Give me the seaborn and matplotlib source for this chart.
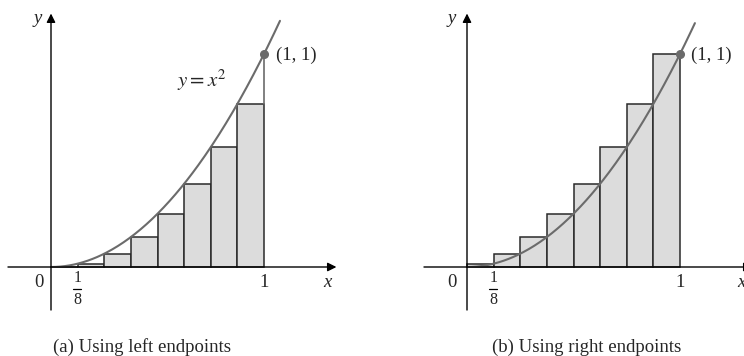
import numpy as np
import pandas as pd
import matplotlib
matplotlib.use("Agg")
import matplotlib.pyplot as plt
import seaborn as sns

# ---- data ----
interval_left = [0.0, 0.125, 0.25, 0.375, 0.5, 0.625, 0.75, 0.875]
bar_width = 0.125
left_heights = [0.0, 0.0156, 0.0625, 0.1406, 0.25, 0.3906, 0.5625, 0.7656]
right_heights = [0.0156, 0.0625, 0.1406, 0.25, 0.3906, 0.5625, 0.7656, 1.0]
captions = ["(a) Using left endpoints", "(b) Using right endpoints"]
tick_labels = ["0", ("1", "8"), "1"]
point_label = "(1, 1)"
curve_label = r"$y = x^2$"

sns.set_theme(style="white")
plt.rcParams["font.family"] = ["Liberation Serif", "DejaVu Serif"]
plt.rcParams["mathtext.fontset"] = "stix"

W, H = 744, 356
fig = plt.figure(figsize=(W / 100, H / 100), dpi=100)

scale = 213.0
oy = 267.0


def make_ax(x0px, ox):
    ax = fig.add_axes([x0px / W, 0, 372 / W, 1])
    ax.set_xlim((x0px - ox) / scale, (x0px + 372 - ox) / scale)
    ax.set_ylim((oy - H) / scale, oy / scale)
    return ax


BAR_FILL = "#dcdcdc"
EDGE = "#2a2a2a"
CURVE = "#6b6b6b"
FS = 13.5


def draw_panel(ax, heights, xmax_curve, left):
    centers = [e + bar_width / 2 for e in interval_left]
    df = pd.DataFrame({"x": centers, "h": heights})
    sns.barplot(data=df, x="x", y="h", native_scale=True, width=1.0,
                color=BAR_FILL, saturation=1, edgecolor=EDGE, linewidth=1.1,
                errorbar=None, ax=ax, zorder=2)
    # curve y = x^2
    xs = np.linspace(0, xmax_curve, 200)
    cdf = pd.DataFrame({"x": xs, "y": xs ** 2})
    sns.lineplot(data=cdf, x="x", y="y", color=CURVE, linewidth=1.5, ax=ax,
                 zorder=4, sort=False)
    if left:
        ax.plot([1, 1], [heights[-1], 1], color=CURVE, lw=1.2, zorder=3)
    ax.plot([1], [1], "o", color=CURVE, ms=5.5, zorder=5)

    # axes with arrows
    ax.annotate("", xy=(1.34, 0), xytext=(-0.202, 0), annotation_clip=False,
                arrowprops=dict(arrowstyle="-|>", color="black", lw=1.0,
                                mutation_scale=13, shrinkA=0, shrinkB=0),
                zorder=6)
    ax.annotate("", xy=(0, 1.19), xytext=(0, -0.202), annotation_clip=False,
                arrowprops=dict(arrowstyle="-|>", color="black", lw=1.0,
                                mutation_scale=13, shrinkA=0, shrinkB=0),
                zorder=6)

    ax.text(-0.055 if left else -0.07, -0.075, tick_labels[0], ha="center",
            va="center", fontsize=FS)
    # fraction 1/8
    num, den = tick_labels[1]
    ax.text(0.124, -0.052, num, ha="center", va="center", fontsize=11.5)
    ax.plot([0.124 - 0.019, 0.124 + 0.019], [-0.103, -0.103], color="black",
            lw=0.9, clip_on=False)
    ax.text(0.124, -0.155, den, ha="center", va="center", fontsize=11.5)
    ax.text(1.0, -0.075, tick_labels[2], ha="center", va="center", fontsize=FS)
    ax.text(1.30 if left else 1.29, -0.075, "x", ha="center", va="center",
            fontsize=FS, style="italic")
    ax.text(-0.062 if left else -0.07, 1.165, "y", ha="center", va="center",
            fontsize=FS, style="italic")
    ax.text(1.055 if left else 1.052, 0.995, point_label, ha="left",
            va="center", fontsize=FS)
    if left:
        ax.text(0.59, 0.878, curve_label, ha="left", va="center",
                fontsize=15)
    ax.set_axis_off()


axL = make_ax(0, 51)
draw_panel(axL, left_heights, 1.075, True)
axR = make_ax(372, 467)
draw_panel(axR, right_heights, 1.07, False)

fig.text(142 / W, 1 - 347 / H, captions[0], ha="center", va="center",
         fontsize=FS)
fig.text(587 / W, 1 - 347 / H, captions[1], ha="center", va="center",
         fontsize=FS)

fig.savefig("out.png", dpi=100)
